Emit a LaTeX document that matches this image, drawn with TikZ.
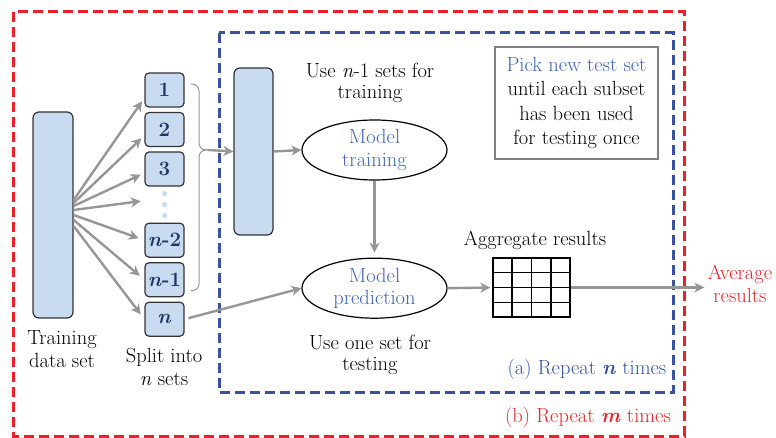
\documentclass[tikz,border=0pt]{standalone}
\usepackage{fontspec}
\usepackage{tikz}
\usetikzlibrary{shapes,positioning,calc,arrows.meta}

\definecolor{setfill}{RGB}{201,219,241}
\definecolor{settext}{RGB}{31,56,100}
\definecolor{nblue}{RGB}{62,98,180}
\definecolor{loopblue}{RGB}{58,80,162}
\definecolor{loopred}{RGB}{236,32,40}
\definecolor{arrgray}{RGB}{150,150,150}

\begin{document}
\begin{tikzpicture}[x=1pt,y=-1pt,
    font=\fontsize{20.5}{22.5}\selectfont,
    node distance=4.3pt,
    subset/.style={draw=black!80, line width=1.2pt, fill=setfill, rounded corners=4pt,
        minimum width=39pt, minimum height=34pt, inner sep=0pt,
        font=\fontsize{20.5}{22.5}\selectfont\bfseries, text=settext},
    tallbox/.style={draw=black!80, line width=1.2pt, fill=setfill, rounded corners=6pt,
        minimum width=40pt},
    model/.style={draw, line width=1.2pt, ellipse, minimum width=145pt, minimum height=60pt,
        inner sep=0pt, align=center, text=nblue},
    arr/.style={-{Stealth[length=10pt,width=10pt,inset=3pt]}, draw=arrgray,
        line width=2.4pt},
    bracket/.style={draw=arrgray, line width=1pt, rounded corners=7pt},
    frame/.style={line width=3pt, dash pattern=on 10pt off 5pt}
]

\useasboundingbox (0,0) rectangle (776,438);

% loops
\draw[frame, loopred] (13,12) rectangle (684,436);
\draw[frame, loopblue] (219,33) rectangle (673,392);

% data
\node[tallbox, minimum height=206pt] (train) at (53,215) {};
\node[align=center] (trainlbl) at (62,349) {Training\\data set};

\node[subset] (s1) at (164.5,90) {1};
\node[subset, below=of s1] (s2) {2};
\node[subset, below=of s2] (s3) {3};
\node[minimum width=39pt, minimum height=27pt, inner sep=0pt,
    below=of s3] (dots) {};
\node[subset, below=of dots] (sn2) {\textit{n}-2};
\node[subset, below=of sn2] (sn1) {\textit{n}-1};
\node[subset, below=of sn1] (sn) {\textit{n}};
\foreach \dy in {-11,0,11}
    \fill[setfill] ([yshift=\dy pt]dots.center) circle (2.6pt);
\node[align=center] (splitlbl) at (164,367) {Split into\\\textit{n} sets};

\draw[arr, shorten >=4pt] ([yshift=15pt]train.east) -- ([yshift=-8pt]s1.west);
\draw[arr, shorten >=4pt] ([yshift=12pt]train.east) -- ([yshift=-6pt]s2.west);
\draw[arr, shorten >=4pt] ([yshift=9pt]train.east) -- ([yshift=-4pt]s3.west);
\draw[arr, shorten >=4pt] ([yshift=5pt]train.east) -- ([yshift=4pt]dots.west);
\draw[arr, shorten >=6pt] ([yshift=0pt]train.east) -- (sn2.west);
\draw[arr, shorten >=6pt] ([yshift=-5pt]train.east) -- (sn1.west);
\draw[arr, shorten >=6pt] ([yshift=-11pt]train.east) -- (sn.west);

% training part
\coordinate (join) at (208,150);
\draw[bracket] ([shift={(6pt,6pt)}]s1.east) -| ([xshift=-9pt]join) -- (join);
\draw[bracket] ([shift={(6pt,-11pt)}]sn1.east) -| ([xshift=-9pt]join) -- (join);

\node[tallbox, minimum width=39pt, minimum height=167pt] (trainset) at (253.5,151.5) {};
\draw[arr] (join) -- (trainset.west);

\node[align=center, font=\fontsize{20.5}{21.5}\selectfont] (uselbl) at (370,83)
    {Use \textit{n}-1 sets for\\training};
\node[model] (mtrain) at (374.5,150) {Model\\training};
\node[model, below=77pt of mtrain] (mpred) {Model\\prediction};
\node[align=center, font=\fontsize{20.5}{21.5}\selectfont] (testlbl) at (370,355)
    {Use one set for\\testing};

\draw[arr] (trainset.east) -- (mtrain.west);
\draw[arr, shorten >=5pt] (mtrain.south) -- (mpred.north);
\draw[arr, shorten <=4pt] (sn.east) -- (mpred.west);

% results
\node[draw, line width=1.3pt, minimum width=77pt, minimum height=59pt,
    inner sep=0pt] (agg) at (531.5,287.5) {};
\foreach \i in {1,2,3} {
    \draw[line width=1.3pt] ($(agg.north west)!\i/4!(agg.north east)$)
        -- ($(agg.south west)!\i/4!(agg.south east)$);
    \draw[line width=1.3pt] ($(agg.north west)!\i/4!(agg.south west)$)
        -- ($(agg.north east)!\i/4!(agg.south east)$);
}
\node (agglbl) at (535,240) {Aggregate results};
\node[align=center, text=loopred] (avg) at (740,284) {Average\\results};

\draw[arr, shorten >=2pt] (mpred.east) -- (agg.west);
\draw[arr] (agg.east) -- (avg.west |- agg.east);

\node[draw=gray, line width=1.2pt, minimum width=163pt, minimum height=112pt,
    align=center, font=\fontsize{20.5}{24.3}\selectfont] (pick) at (576.5,103)
    {\textcolor{nblue}{Pick new test set}\\until each subset\\has been used\\for testing once};

\node[text=loopblue] (repa) at (587,369) {(a) Repeat \textbf{\textit{n}} times};
\node[text=loopred] (repb) at (588,417) {(b) Repeat \textbf{\textit{m}} times};

\end{tikzpicture}
\end{document}
